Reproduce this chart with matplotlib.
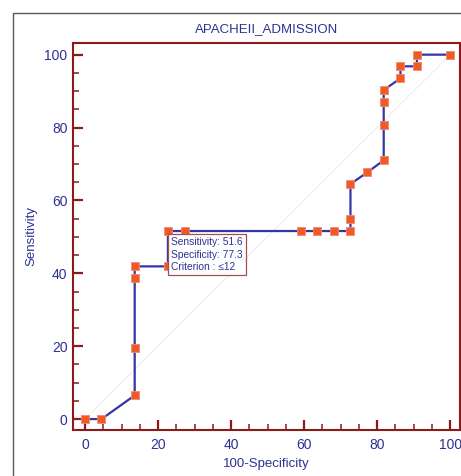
import matplotlib
matplotlib.use("Agg")
import matplotlib.pyplot as plt
from matplotlib.patches import Rectangle
from matplotlib.ticker import MultipleLocator

# ROC points
fpr = [0, 4.5, 13.6, 13.6, 13.6, 13.6, 22.7, 22.7, 27.3, 59.1, 63.6, 68.2,
       72.7, 72.7, 72.7, 77.3, 81.8, 81.8, 81.8, 81.8, 86.4, 86.4, 90.9, 90.9, 100]
sens = [0, 0, 6.5, 19.4, 38.7, 41.9, 41.9, 51.6, 51.6, 51.6, 51.6, 51.6,
        51.6, 54.8, 64.5, 67.7, 71.0, 80.6, 87.1, 90.3, 93.5, 96.8, 96.8, 100, 100]

# optimal criterion
crit_x = 22.7
crit_y = 51.6
crit_text = "Sensitivity: 51.6\nSpecificity: 77.3\nCriterion : \u226412"

ticks = [0, 20, 40, 60, 80, 100]

navy = "#2e3192"
axis_red = "#8b1a1a"

plt.rcParams['font.family'] = ['Liberation Sans', 'DejaVu Sans']

fig = plt.figure(figsize=(4.61, 4.76), dpi=100)
ax = fig.add_axes([73 / 461, 1 - 430 / 476, (460 - 73) / 461, (430 - 43) / 476])

# outer grey frame
fig.patches.append(Rectangle((13 / 461, -0.1), 1.2, (476 - 13) / 476 + 0.1,
                             transform=fig.transFigure, fill=False,
                             edgecolor="#5a5a5a", linewidth=1.0))

# reference diagonal
ax.plot([0, 100], [0, 100], color="#ededed", linewidth=0.8, zorder=1)

# ROC curve
ax.plot(fpr, sens, color="#3535a8", linewidth=1.6, marker="s", markersize=5.5,
        markerfacecolor="#f15a22", markeredgecolor="#f08a7a", markeredgewidth=0.6,
        clip_on=False, zorder=3)

# criterion box
ax.annotate(crit_text, xy=(crit_x, crit_y), xytext=(2.5, -4.5),
            textcoords="offset points", ha="left", va="top",
            fontsize=7.4, color=navy, linespacing=1.3,
            bbox=dict(boxstyle="square,pad=0.3", facecolor="white",
                      edgecolor="#a05050", linewidth=0.9), zorder=4)

ax.set_xlim(-3.3, 102.7)
ax.set_ylim(-3.0, 103.2)
ax.set_xticks(ticks)
ax.set_yticks(ticks)
ax.xaxis.set_minor_locator(MultipleLocator(5))
ax.yaxis.set_minor_locator(MultipleLocator(5))

for s in ax.spines.values():
    s.set_color(axis_red)
    s.set_linewidth(1.5)

ax.tick_params(which="major", direction="in", length=7, width=1.6,
               color=axis_red, labelcolor=navy, labelsize=10,
               top=False, right=False)
ax.tick_params(axis="x", which="major", pad=6)
ax.tick_params(axis="y", which="major", pad=4)
ax.tick_params(which="minor", direction="in", length=4, width=1.1,
               color=axis_red, top=False, right=False)

ax.set_title("APACHEII_ADMISSION", color=navy, fontsize=9.5, pad=8)
ax.set_xlabel("100-Specificity", color=navy, fontsize=9.5, labelpad=4)
ax.set_ylabel("Sensitivity", color=navy, fontsize=9.5, labelpad=5)

fig.savefig("out.png", dpi=100)
